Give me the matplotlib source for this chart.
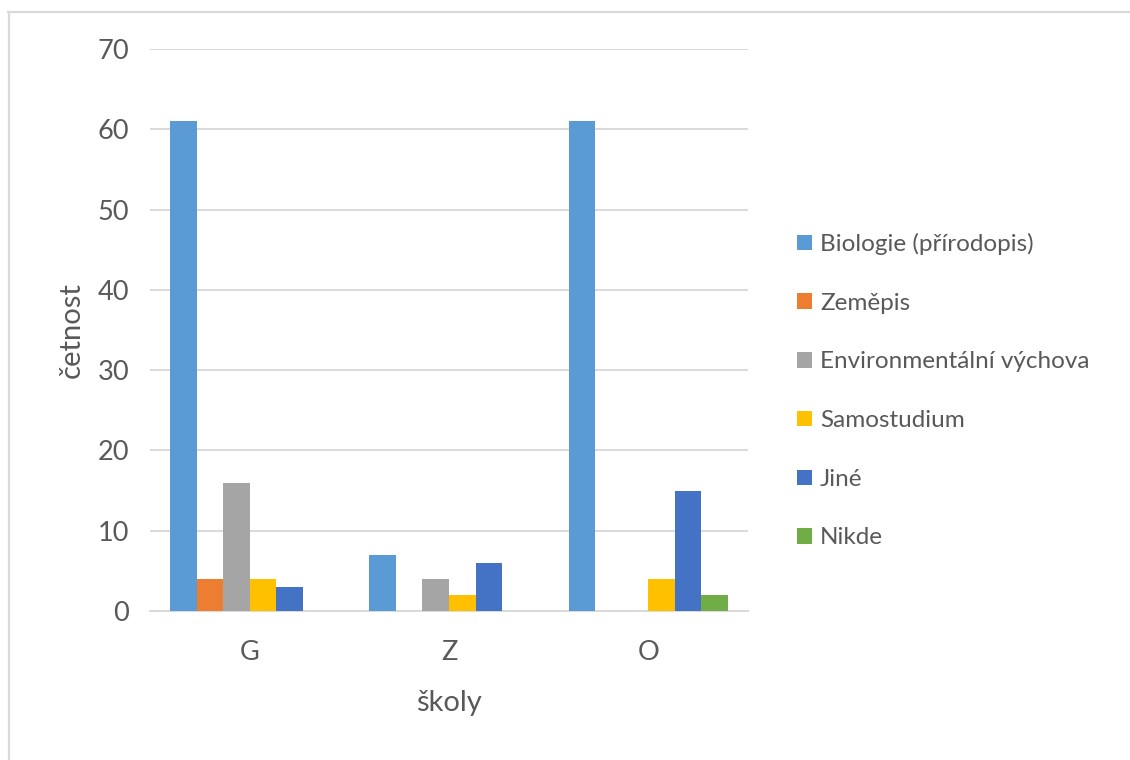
import matplotlib
matplotlib.use("Agg")
import matplotlib.pyplot as plt
from matplotlib.lines import Line2D
from matplotlib.patches import Patch
import numpy as np

plt.rcParams['font.family'] = ['Lato', 'DejaVu Sans']

schools = ["G", "Z", "O"]
subjects = ["Biologie (přírodopis)", "Zeměpis", "Environmentální výchova",
            "Samostudium", "Jiné", "Nikde"]
biologie = [61, 7, 61]
zemepis = [4, 0, 0]
environmentalni = [16, 4, 0]
samostudium = [4, 2, 4]
jine = [3, 6, 15]
nikde = [0, 0, 2]
series = [biologie, zemepis, environmentalni, samostudium, jine, nikde]
colors = ["#5B9BD5", "#ED7D31", "#A5A5A5", "#FFC000", "#4472C4", "#70AD47"]

text_color = "#595959"
grid_color = "#D9D9D9"

W, H = 1130, 760
fig = plt.figure(figsize=(W / 100, H / 100), dpi=100)
ax = fig.add_axes([150 / W, 1 - 611 / H, (748 - 150) / W, (611 - 49) / H])

x = np.arange(len(schools))
n = len(series)
bw = 1.0 / (n + 1.5)
for i, (vals, col) in enumerate(zip(series, colors)):
    ax.bar(x + (i - (n - 1) / 2) * bw, vals, width=bw, color=col,
           label=subjects[i], zorder=3, linewidth=0)

ax.set_xlim(-0.5, len(schools) - 0.5)
ax.set_ylim(0, 70)
ax.set_yticks(range(0, 71, 10))
ax.set_xticks(x)
ax.set_xticklabels(schools)
ax.yaxis.grid(True, color=grid_color, linewidth=1.4, zorder=0)
ax.set_axisbelow(True)
for s in ["top", "right", "left"]:
    ax.spines[s].set_visible(False)
ax.spines["bottom"].set_color(grid_color)
ax.spines["bottom"].set_linewidth(1.4)
ax.tick_params(axis="both", length=0, labelsize=19.5, colors=text_color)
ax.tick_params(axis="y", pad=15)
ax.tick_params(axis="x", pad=21)

ax.set_ylabel("četnost", fontsize=21, color=text_color, labelpad=9)
ax.set_xlabel("školy", fontsize=21, color=text_color, labelpad=18)

handles = [Patch(facecolor=c, edgecolor="none") for c in colors]
leg = fig.legend(handles, subjects, loc="upper left",
                 bbox_to_anchor=(797 / W, 1 - 233 / H),
                 frameon=False, fontsize=17.5, labelcolor=text_color,
                 handlelength=0.6, handleheight=0.6, handletextpad=0.35,
                 labelspacing=1.55, borderaxespad=0, borderpad=0)

# chart frame
fig.add_artist(Line2D([8 / W, 1], [1 - 11.5 / H, 1 - 11.5 / H],
                      transform=fig.transFigure, color=grid_color, lw=1.6))
fig.add_artist(Line2D([8.5 / W, 8.5 / W], [0, 1 - 11.5 / H],
                      transform=fig.transFigure, color=grid_color, lw=1.6))

fig.savefig("out.png", dpi=100, facecolor="white")
